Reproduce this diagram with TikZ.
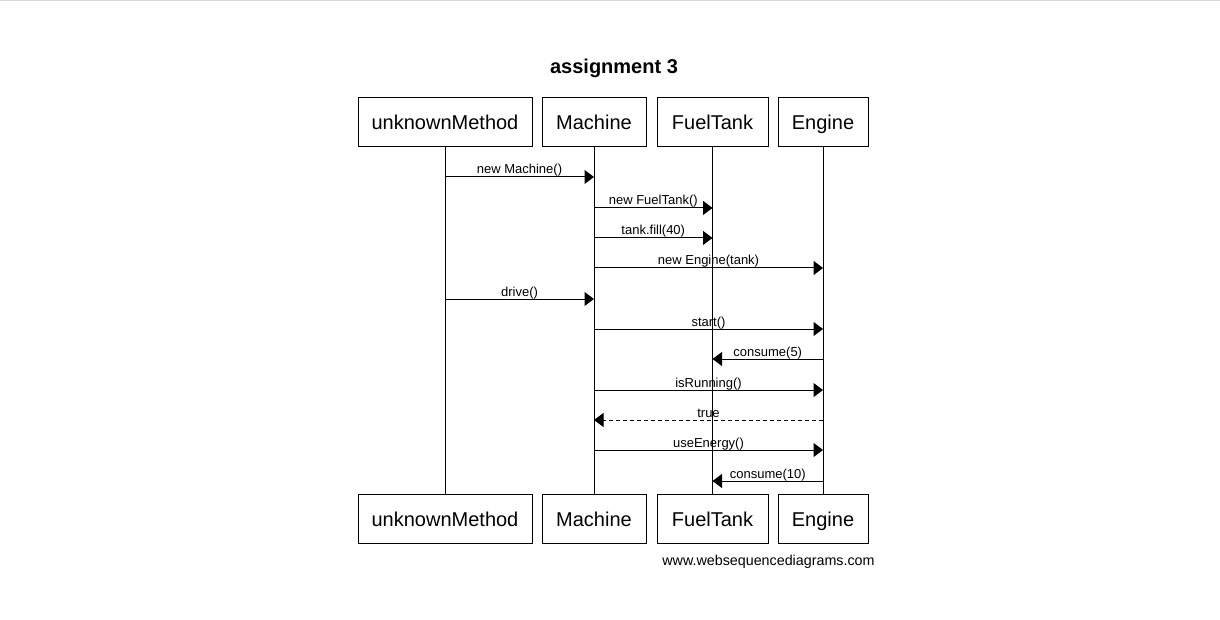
\documentclass[tikz,border=0pt]{standalone}
\usepackage{fontspec}
\setmainfont{Liberation Sans}
\usetikzlibrary{arrows.meta, calc}

\begin{document}
\begin{tikzpicture}[x=1pt, y=-1pt,
    actor/.style={draw, line width=1pt, minimum height=49pt, inner sep=0pt, text height=15pt, text depth=0pt, font=\fontsize{20}{24}\selectfont},
    msg/.style={-{Triangle[length=9.5pt, width=14pt]}, line width=1pt},
    reply/.style={msg, dash pattern=on 4pt off 3pt},
    lbl/.style={font=\fontsize{13}{15}\selectfont, anchor=base, inner sep=0pt, yshift=3pt},
]

\useasboundingbox (0,0) rectangle (1220,620);
\draw[black!15, line width=1pt] (0,1) -- (1220,1);

% === TITLE ===
\node[font=\bfseries\fontsize{20}{24}\selectfont] (title) at (614,68.5) {assignment 3};

% === PARTICIPANTS (top and bottom boxes, lifelines) ===
\foreach \nm/\x/\w/\txt in {
    um/445/174/unknownMethod,
    ma/594/104/Machine,
    ft/712.5/111/FuelTank,
    en/823/90/Engine%
}{
    \node[actor, minimum width=\w pt] (\nm top) at (\x,122.5) {\txt};
    \node[actor, minimum width=\w pt] (\nm bot) at (\x,518.5) {\txt};
    \draw[line width=1pt] (\nm top) -- (\nm bot);
}

% === MESSAGES ===
\foreach \a/\b/\y/\txt/\sty [count=\idx] in {
    um/ma/177/new Machine()/msg,
    ma/ft/208/new FuelTank()/msg,
    ma/ft/238/tank.fill(40)/msg,
    ma/en/268/new Engine(tank)/msg,
    um/ma/299/drive()/msg,
    ma/en/329/start()/msg,
    en/ft/359/consume(5)/msg,
    ma/en/390/isRunning()/msg,
    en/ma/420/true/reply,
    ma/en/450/useEnergy()/msg,
    en/ft/481/consume(10)/msg%
}{
    \coordinate (m\idx a) at (\a top.south |- 0,\y);
    \coordinate (m\idx b) at (\b top.south |- 0,\y);
    \draw[\sty] (m\idx a) -- (m\idx b) node[midway, lbl] {\txt};
}

% === FOOTER ===
\node[font=\fontsize{14.3}{17}\selectfont] (footer) at (768.5,562) {www.websequencediagrams.com};

\end{tikzpicture}
\end{document}
